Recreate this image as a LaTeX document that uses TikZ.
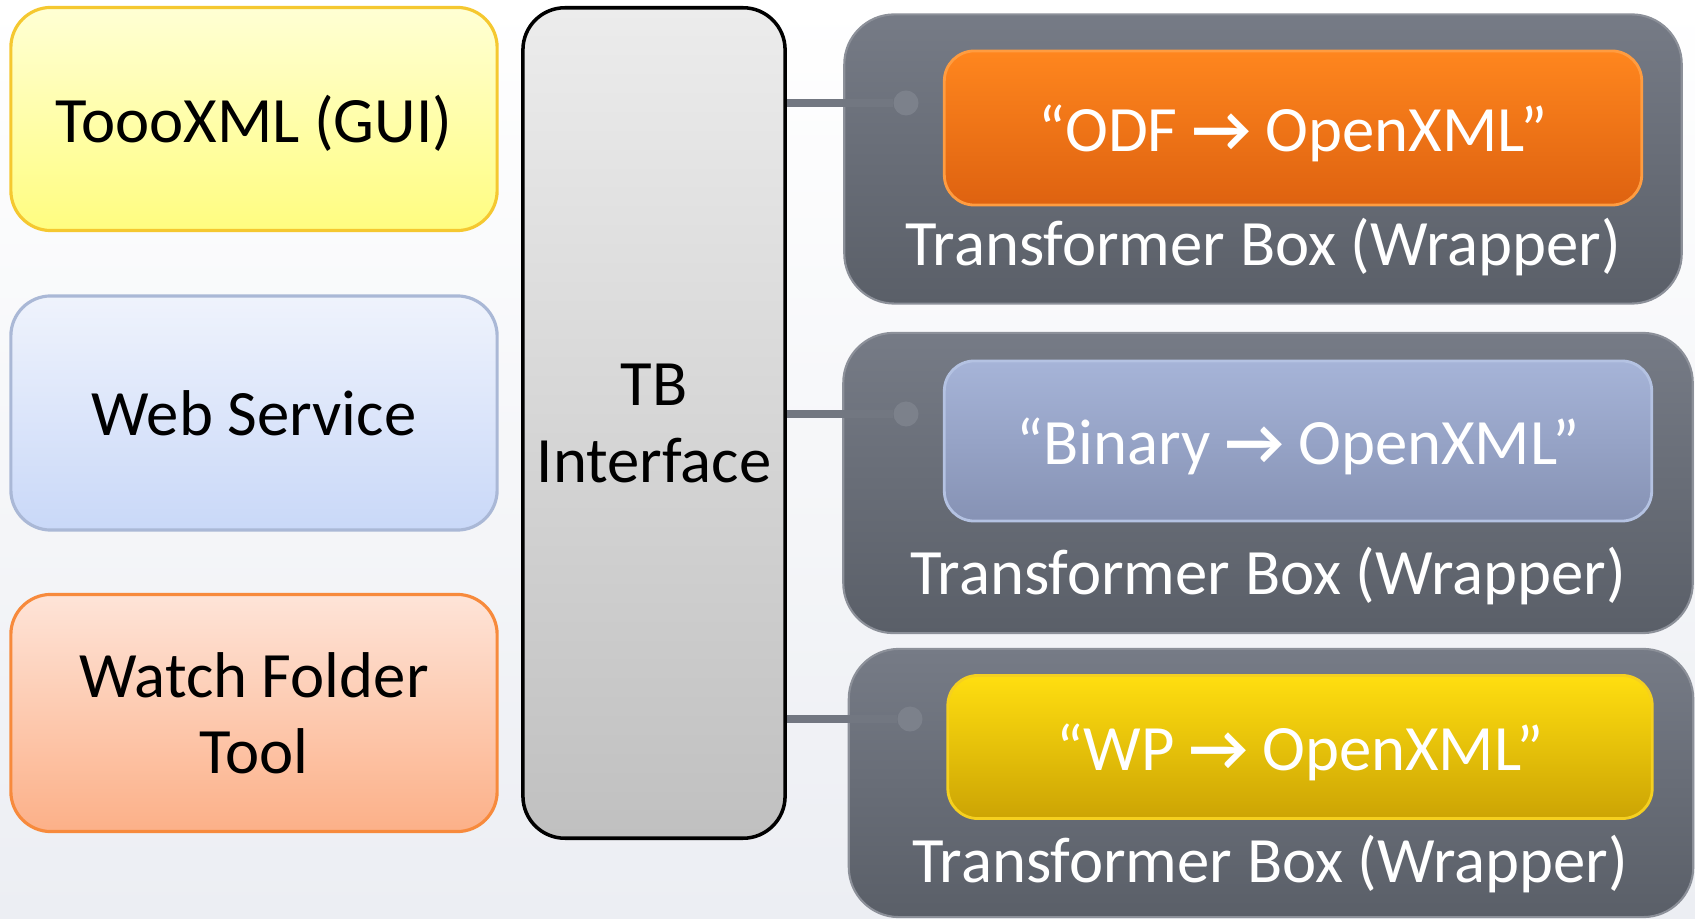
\documentclass[tikz,border=0pt]{standalone}
\usepackage{fontspec}
\setmainfont{Carlito}
\usepackage{tikz}
\usetikzlibrary{shapes}
\definecolor{fondH}{RGB}{255,255,255}
\definecolor{fondB}{RGB}{236,238,243}
\definecolor{jauneH}{RGB}{255,255,212}
\definecolor{jauneB}{RGB}{255,253,128}
\definecolor{jauneT}{RGB}{245,200,48}
\definecolor{bleuH}{RGB}{239,243,252}
\definecolor{bleuB}{RGB}{201,216,248}
\definecolor{bleuT}{RGB}{170,184,214}
\definecolor{orangeH}{RGB}{254,228,216}
\definecolor{orangeB}{RGB}{252,176,136}
\definecolor{orangeT}{RGB}{247,138,60}
\definecolor{grisH}{RGB}{236,236,236}
\definecolor{grisB}{RGB}{192,192,192}
\definecolor{ardH}{RGB}{118,123,134}
\definecolor{ardB}{RGB}{90,95,104}
\definecolor{ardT}{RGB}{140,144,153}
\definecolor{lienC}{RGB}{114,119,129}
\definecolor{pointC}{RGB}{124,129,139}
\definecolor{odfH}{RGB}{255,134,30}
\definecolor{odfB}{RGB}{222,98,16}
\definecolor{odfT}{RGB}{255,156,64}
\definecolor{binH}{RGB}{166,180,216}
\definecolor{binB}{RGB}{134,146,180}
\definecolor{binT}{RGB}{180,194,226}
\definecolor{wpH}{RGB}{255,222,16}
\definecolor{wpB}{RGB}{204,164,4}
\definecolor{wpT}{RGB}{245,208,32}
\newcommand{\fl}{{\bfseries →}}
\tikzstyle{texte}=[font=\fontsize{18.4}{21.8}\selectfont,align=center,text depth=0pt]
\tikzstyle{noeud}=[rectangle,rounded corners=0.4cm,minimum width=4.86cm,
line width=0.9pt,texte,text=black]
\tikzstyle{interface}=[rectangle,rounded corners=0.42cm,draw=black,line width=1pt,
top color=grisH,bottom color=grisB,texte,text=black]
\tikzstyle{enveloppe}=[rectangle,rounded corners=0.5cm,draw=ardT,line width=0.6pt,
top color=ardH,bottom color=ardB]
\tikzstyle{convertisseur}=[rectangle,rounded corners=0.3cm,line width=0.8pt,
texte,text=white]
\tikzstyle{etiquette}=[texte,text=white]
\tikzstyle{lien}=[lienC,line width=2pt]
\tikzstyle{point}=[circle,fill=pointC,inner sep=0pt,minimum size=0.25cm]

\begin{document}
\begin{tikzpicture}[x=0.01cm,y=-0.01cm]
\fill[top color=fondH,bottom color=fondB] (0,0) rectangle (1695,919);
\useasboundingbox (0,0) rectangle (1695,919);
% clients
\node[noeud,minimum height=2.23cm,draw=jauneT,top color=jauneH,bottom color=jauneB]
  (G) at (254,119) {ToooXML (GUI)};
\node[noeud,minimum height=2.34cm,draw=bleuT,top color=bleuH,bottom color=bleuB]
  (W) at (254,413) {Web Service};
\node[noeud,minimum height=2.37cm,draw=orangeT,top color=orangeH,bottom color=orangeB]
  (D) at (254,713) {Watch Folder\\Tool};
\node[interface,minimum width=2.62cm,minimum height=8.3cm] (TB) at (654,423) {TB\\Interface};
% transformer boxes
\node[enveloppe,minimum width=8.37cm,minimum height=2.89cm] (E1) at (1263,159) {};
\node[enveloppe,minimum width=8.49cm,minimum height=3cm] (E2) at (1268,483) {};
\node[enveloppe,minimum width=8.44cm,minimum height=2.68cm] (E3) at (1271,783) {};
\node[point] (P1) at (906,103) {};
\node[point] (P2) at (906,414) {};
\node[point] (P3) at (910,719) {};
\draw[lien] (P1 -| TB.east) -- (P1);
\draw[lien] (P2 -| TB.east) -- (P2);
\draw[lien] (P3 -| TB.east) -- (P3);
\node[convertisseur,minimum width=6.97cm,minimum height=1.54cm,draw=odfT,
  top color=odfH,bottom color=odfB] (C1) at (1293,128) {“ODF \fl{} OpenXML”};
\node[convertisseur,minimum width=7.07cm,minimum height=1.6cm,draw=binT,
  top color=binH,bottom color=binB] (C2) at (1298,441) {“Binary \fl{} OpenXML”};
\node[convertisseur,minimum width=7.04cm,minimum height=1.43cm,draw=wpT,
  top color=wpH,bottom color=wpB] (C3) at (1300,747) {“WP \fl{} OpenXML”};
\node[etiquette] (L1) at (1263,242) {Transformer Box (Wrapper)};
\node[etiquette] (L2) at (1268,571) {Transformer Box (Wrapper)};
\node[etiquette] (L3) at (1270,859) {Transformer Box (Wrapper)};
\end{tikzpicture}
\end{document}
